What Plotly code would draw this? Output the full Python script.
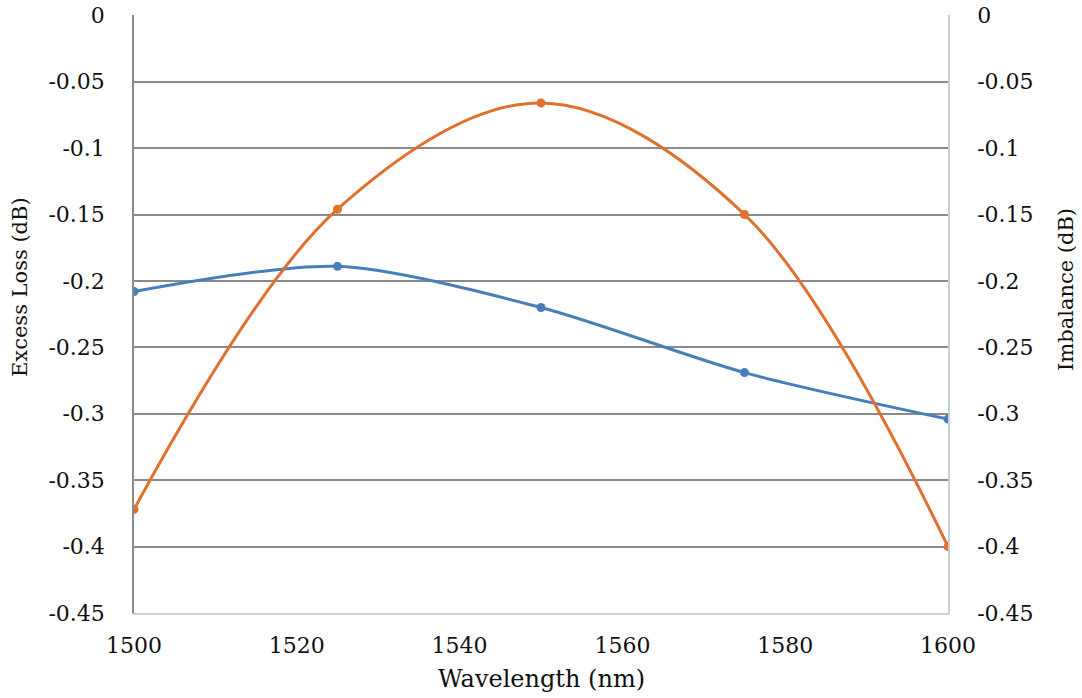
import plotly.graph_objects as go

wavelength = [1500, 1525, 1550, 1575, 1600]
excess_loss = [-0.208, -0.189, -0.220, -0.269, -0.304]
imbalance = [-0.372, -0.146, -0.066, -0.150, -0.400]
x_ticks = [1500, 1520, 1540, 1560, 1580, 1600]
y_ticks = [0, -0.05, -0.1, -0.15, -0.2, -0.25, -0.3, -0.35, -0.4, -0.45]
y_labels = ["0", "-0.05", "-0.1", "-0.15", "-0.2", "-0.25", "-0.3", "-0.35", "-0.4", "-0.45"]

FONT = "DejaVu Serif"
TXT = "#111111"
TICK = 22
Y_RANGE = [-0.45, 0.0002]

fig = go.Figure()
fig.add_trace(go.Scatter(x=wavelength, y=excess_loss, mode="lines+markers",
                         line=dict(color="#4a7ebb", width=3, shape="spline", smoothing=0.8),
                         marker=dict(size=9, color="#4a7ebb"), name="Excess Loss", yaxis="y"))
fig.add_trace(go.Scatter(x=wavelength, y=imbalance, mode="lines+markers",
                         line=dict(color="#e0702e", width=3, shape="spline", smoothing=1.0),
                         marker=dict(size=9, color="#e0702e"), name="Imbalance", yaxis="y2"))

fig.update_layout(
    width=1082, height=698,
    margin=dict(l=134, r=134, t=15, b=85, autoexpand=False),
    plot_bgcolor="white", paper_bgcolor="white",
    showlegend=False,
    font=dict(family=FONT, size=TICK, color=TXT),
    xaxis=dict(range=[1500, 1600], tickvals=x_ticks, showgrid=False, zeroline=False,
               showline=True, linecolor="#c8d0d8", linewidth=1.5, automargin=False,
               ticks="", tickfont=dict(size=TICK, color=TXT), ticklabelstandoff=12,
               ticklabeloverflow="allow"),
    yaxis=dict(range=Y_RANGE, tickvals=y_ticks, ticktext=y_labels, showgrid=True,
               gridcolor="#8a8a8a", gridwidth=1.5, zeroline=False, automargin=False,
               showline=True, linecolor="#8a8a8a", linewidth=1.5,
               ticks="", ticklabelstandoff=23, tickfont=dict(size=TICK, color=TXT),
               ticklabeloverflow="allow"),
    yaxis2=dict(range=Y_RANGE, tickvals=y_ticks, ticktext=y_labels, overlaying="y",
                side="right", showgrid=False, zeroline=False, automargin=False,
                showline=True, linecolor="#c8d0d8", linewidth=1.5,
                ticks="", ticklabelstandoff=23, tickfont=dict(size=TICK, color=TXT),
                ticklabeloverflow="allow"),
    annotations=[
        dict(text="Wavelength (nm)", xref="paper", yref="paper", x=0.5, y=0,
             xanchor="center", yanchor="middle", yshift=-66, showarrow=False,
             font=dict(size=24, color=TXT)),
        dict(text="Excess Loss (dB)", xref="paper", yref="paper", x=0, y=0.5,
             xanchor="center", yanchor="middle", xshift=-114, yshift=27, textangle=-90,
             showarrow=False, font=dict(size=21, color=TXT)),
        dict(text="Imbalance (dB)", xref="paper", yref="paper", x=1, y=0.5,
             xanchor="center", yanchor="middle", xshift=118, yshift=24, textangle=-90,
             showarrow=False, font=dict(size=21, color=TXT)),
    ],
)

fig.write_html("out.html", config={"displayModeBar": False},
               post_script="document.body.style.margin='0';")
